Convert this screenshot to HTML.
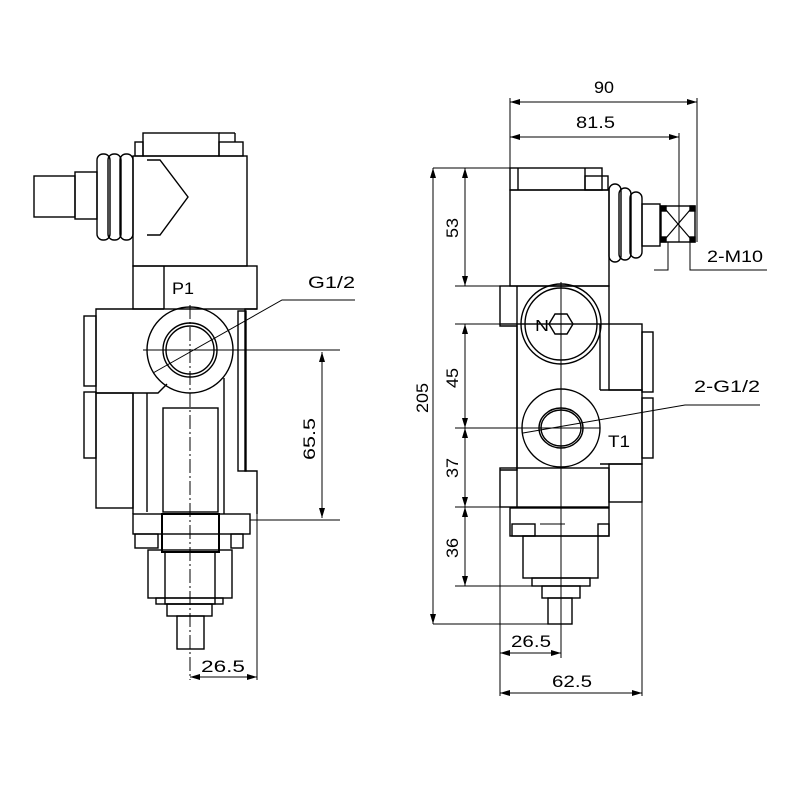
<!DOCTYPE html>
<html><head><meta charset="utf-8"><style>html,body{margin:0;background:#fff}svg{display:block}</style></head><body>
<svg width="800" height="800" viewBox="0 0 800 800" xmlns="http://www.w3.org/2000/svg">
<defs>
<marker id="a" viewBox="0 0 10 6" refX="10" refY="3" markerWidth="10" markerHeight="6" orient="auto-start-reverse" markerUnits="userSpaceOnUse"><path d="M0,0L10,3L0,6z" fill="#000"/></marker>
</defs>
<g fill="none" stroke="#000" stroke-width="1.4">
<!-- LEFT VIEW -->
<rect x="143" y="133" width="76" height="23"/>
<rect x="219" y="142" width="24" height="14"/>
<rect x="135" y="142" width="8" height="14"/>
<line x1="219" y1="133" x2="235" y2="133"/><line x1="235" y1="133" x2="235" y2="142"/>
<rect x="133" y="156" width="114" height="110"/>
<path d="M147,160 L160,160 L188,197 L160,235 L147,235"/>
<rect x="97" y="154" width="13" height="86" rx="6"/>
<rect x="108" y="154" width="13" height="86" rx="6"/>
<rect x="120" y="154" width="13" height="86" rx="6"/>
<rect x="75" y="172" width="22" height="47"/>
<rect x="34" y="176" width="41" height="41"/>
<rect x="133" y="266" width="124" height="43"/>
<line x1="164" y1="266" x2="164" y2="309"/>
<path d="M164,309 L96,309 L96,393 L133,393"/>
<rect x="84" y="316" width="12" height="70"/>
<rect x="84" y="392" width="12" height="66"/>
<rect x="96" y="393" width="37" height="115"/>
<path d="M133,393 L158,393 L167,384"/>
<line x1="147" y1="393" x2="147" y2="512"/>
<line x1="133" y1="393" x2="133" y2="514"/>
<path d="M257,309 L245,309 L245,471 L257,471 L257,514"/>
<rect x="238" y="311" width="8" height="160"/>
<line x1="224" y1="378" x2="224" y2="514"/>
<circle cx="190" cy="350" r="43"/>
<circle cx="190" cy="350" r="27"/>
<circle cx="190" cy="350" r="24"/>
<rect x="163" y="408" width="55" height="104"/>
<rect x="133" y="514" width="117" height="20"/>
<rect x="162" y="514" width="57" height="38" stroke-width="2"/>
<rect x="135" y="534" width="23" height="14"/>
<rect x="231" y="534" width="12" height="14"/>
<rect x="148" y="550" width="84" height="48"/>
<rect x="165" y="552" width="50" height="52"/>
<rect x="156" y="598" width="67" height="6"/>
<rect x="167" y="604" width="45" height="12"/>
<rect x="177" y="616" width="27" height="33"/>
<line x1="190" y1="305" x2="190" y2="680" stroke-width="1" stroke-dasharray="14,3,2,3"/>
<line x1="143" y1="350" x2="340" y2="350" stroke-width="1"/>
<line x1="250" y1="520" x2="340" y2="520" stroke-width="1"/>
<line x1="322" y1="352" x2="322" y2="518" stroke-width="1" marker-start="url(#a)" marker-end="url(#a)"/>
<line x1="257" y1="514" x2="257" y2="680" stroke-width="1"/>
<line x1="190" y1="677" x2="257" y2="677" stroke-width="1" marker-start="url(#a)" marker-end="url(#a)"/>
<path d="M153,373 L282,300 L355,300" stroke-width="1"/>

<!-- RIGHT VIEW -->
<line x1="510" y1="102" x2="697" y2="102" stroke-width="1" marker-start="url(#a)" marker-end="url(#a)"/>
<line x1="510" y1="137" x2="679" y2="137" stroke-width="1" marker-start="url(#a)" marker-end="url(#a)"/>
<line x1="510" y1="98" x2="510" y2="168" stroke-width="1"/>
<line x1="697" y1="98" x2="697" y2="242" stroke-width="1"/>
<line x1="679" y1="133" x2="679" y2="242" stroke-width="1"/>
<rect x="510" y="168" width="92" height="22"/>
<line x1="518" y1="168" x2="518" y2="190"/><line x1="585" y1="168" x2="585" y2="190"/>
<rect x="585" y="176" width="23" height="14"/>
<rect x="510" y="190" width="99" height="96"/>
<rect x="609" y="184" width="12" height="78" rx="6"/>
<rect x="619" y="188" width="12" height="72" rx="6"/>
<rect x="630" y="192" width="12" height="66" rx="6"/>
<rect x="642" y="204" width="18" height="42"/>
<rect x="661" y="206" width="34" height="36"/>
<path d="M666,210 L690,238 M690,210 L666,238" stroke-width="1.2"/>
<rect x="661" y="206" width="5" height="5" fill="#000"/><rect x="690" y="206" width="5" height="5" fill="#000"/>
<rect x="661" y="237" width="5" height="5" fill="#000"/><rect x="690" y="237" width="5" height="5" fill="#000"/>
<path d="M690,242 L690,270 L767,270" stroke-width="1"/>
<path d="M668,242 L668,270 L654,270" stroke-width="1"/>
<rect x="500" y="286" width="109" height="38"/>
<path d="M500,324 L500,326 L517,326 L517,470 L500,470"/>
<line x1="517" y1="286" x2="517" y2="507"/>
<line x1="600" y1="324" x2="600" y2="390"/>
<rect x="609" y="324" width="33" height="66"/>
<rect x="642" y="332" width="11" height="60"/>
<path d="M600,390 L642,390 L642,464 L600,464"/>
<rect x="642" y="398" width="11" height="60"/>
<rect x="609" y="464" width="33" height="38"/>
<rect x="500" y="468" width="109" height="39"/>
<circle cx="561" cy="324" r="40"/>
<circle cx="561" cy="324" r="36"/>
<path d="M549,324 L555,314 L567,314 L573,324 L567,334 L555,334 Z"/>
<circle cx="561" cy="428" r="39"/>
<ellipse cx="561" cy="428" rx="22" ry="20"/>
<ellipse cx="561" cy="428" rx="20" ry="18"/>
<rect x="510" y="508" width="99" height="28"/>
<rect x="512" y="524" width="23" height="12"/>
<rect x="598" y="524" width="11" height="12"/>
<line x1="540" y1="524" x2="565" y2="524" stroke-width="1"/>
<rect x="523" y="536" width="75" height="42"/>
<rect x="532" y="578" width="58" height="8"/>
<rect x="542" y="586" width="38" height="12"/>
<rect x="548" y="598" width="24" height="26"/>
<line x1="561" y1="282" x2="561" y2="658" stroke-width="1"/>
<line x1="545" y1="324" x2="577" y2="324" stroke-width="1"/>
<line x1="433" y1="168" x2="433" y2="624" stroke-width="1" marker-start="url(#a)" marker-end="url(#a)"/>
<line x1="433" y1="168" x2="510" y2="168" stroke-width="1"/>
<line x1="433" y1="624" x2="548" y2="624" stroke-width="1"/>
<line x1="465" y1="168" x2="465" y2="286" stroke-width="1" marker-start="url(#a)" marker-end="url(#a)"/>
<line x1="465" y1="324" x2="465" y2="428" stroke-width="1" marker-start="url(#a)" marker-end="url(#a)"/>
<line x1="465" y1="428" x2="465" y2="507" stroke-width="1" marker-start="url(#a)" marker-end="url(#a)"/>
<line x1="465" y1="507" x2="465" y2="586" stroke-width="1" marker-start="url(#a)" marker-end="url(#a)"/>
<line x1="455" y1="286" x2="500" y2="286" stroke-width="1"/>
<line x1="455" y1="324" x2="600" y2="324" stroke-width="1"/>
<line x1="455" y1="428" x2="600" y2="428" stroke-width="1"/>
<line x1="455" y1="507" x2="500" y2="507" stroke-width="1"/>
<line x1="455" y1="586" x2="532" y2="586" stroke-width="1"/>
<line x1="500" y1="507" x2="500" y2="696" stroke-width="1"/>
<line x1="642" y1="502" x2="642" y2="696" stroke-width="1"/>
<line x1="500" y1="653" x2="561" y2="653" stroke-width="1" marker-start="url(#a)" marker-end="url(#a)"/>
<line x1="500" y1="693" x2="642" y2="693" stroke-width="1" marker-start="url(#a)" marker-end="url(#a)"/>
<path d="M523,433 L685,405 L760,405" stroke-width="1"/>
</g>
<g font-family="'Liberation Sans', sans-serif" font-size="17" fill="#000" lengthAdjust="spacingAndGlyphs">
<text x="172" y="294" textLength="22" lengthAdjust="spacingAndGlyphs">P1</text>
<text x="308" y="288" textLength="47" lengthAdjust="spacingAndGlyphs">G1/2</text>
<text x="201" y="672" textLength="44" lengthAdjust="spacingAndGlyphs">26.5</text>
<text transform="translate(315,460) rotate(-90)" textLength="42" lengthAdjust="spacingAndGlyphs">65.5</text>
<text x="594" y="93" textLength="20" lengthAdjust="spacingAndGlyphs">90</text>
<text x="576" y="128" textLength="39" lengthAdjust="spacingAndGlyphs">81.5</text>
<text x="707" y="262" textLength="56" lengthAdjust="spacingAndGlyphs">2-M10</text>
<text x="694" y="392" textLength="66" lengthAdjust="spacingAndGlyphs">2-G1/2</text>
<text x="535" y="331" font-size="16" textLength="14" lengthAdjust="spacingAndGlyphs">N</text>
<text x="608" y="447" textLength="22" lengthAdjust="spacingAndGlyphs">T1</text>
<text x="511" y="647" textLength="40" lengthAdjust="spacingAndGlyphs">26.5</text>
<text x="552" y="687" textLength="40" lengthAdjust="spacingAndGlyphs">62.5</text>
<text transform="translate(428,413) rotate(-90)" textLength="30" lengthAdjust="spacingAndGlyphs">205</text>
<text transform="translate(458,238) rotate(-90)" textLength="20" lengthAdjust="spacingAndGlyphs">53</text>
<text transform="translate(458,388) rotate(-90)" textLength="20" lengthAdjust="spacingAndGlyphs">45</text>
<text transform="translate(458,478) rotate(-90)" textLength="20" lengthAdjust="spacingAndGlyphs">37</text>
<text transform="translate(458,558) rotate(-90)" textLength="20" lengthAdjust="spacingAndGlyphs">36</text>
</g>
</svg>
</body></html>
